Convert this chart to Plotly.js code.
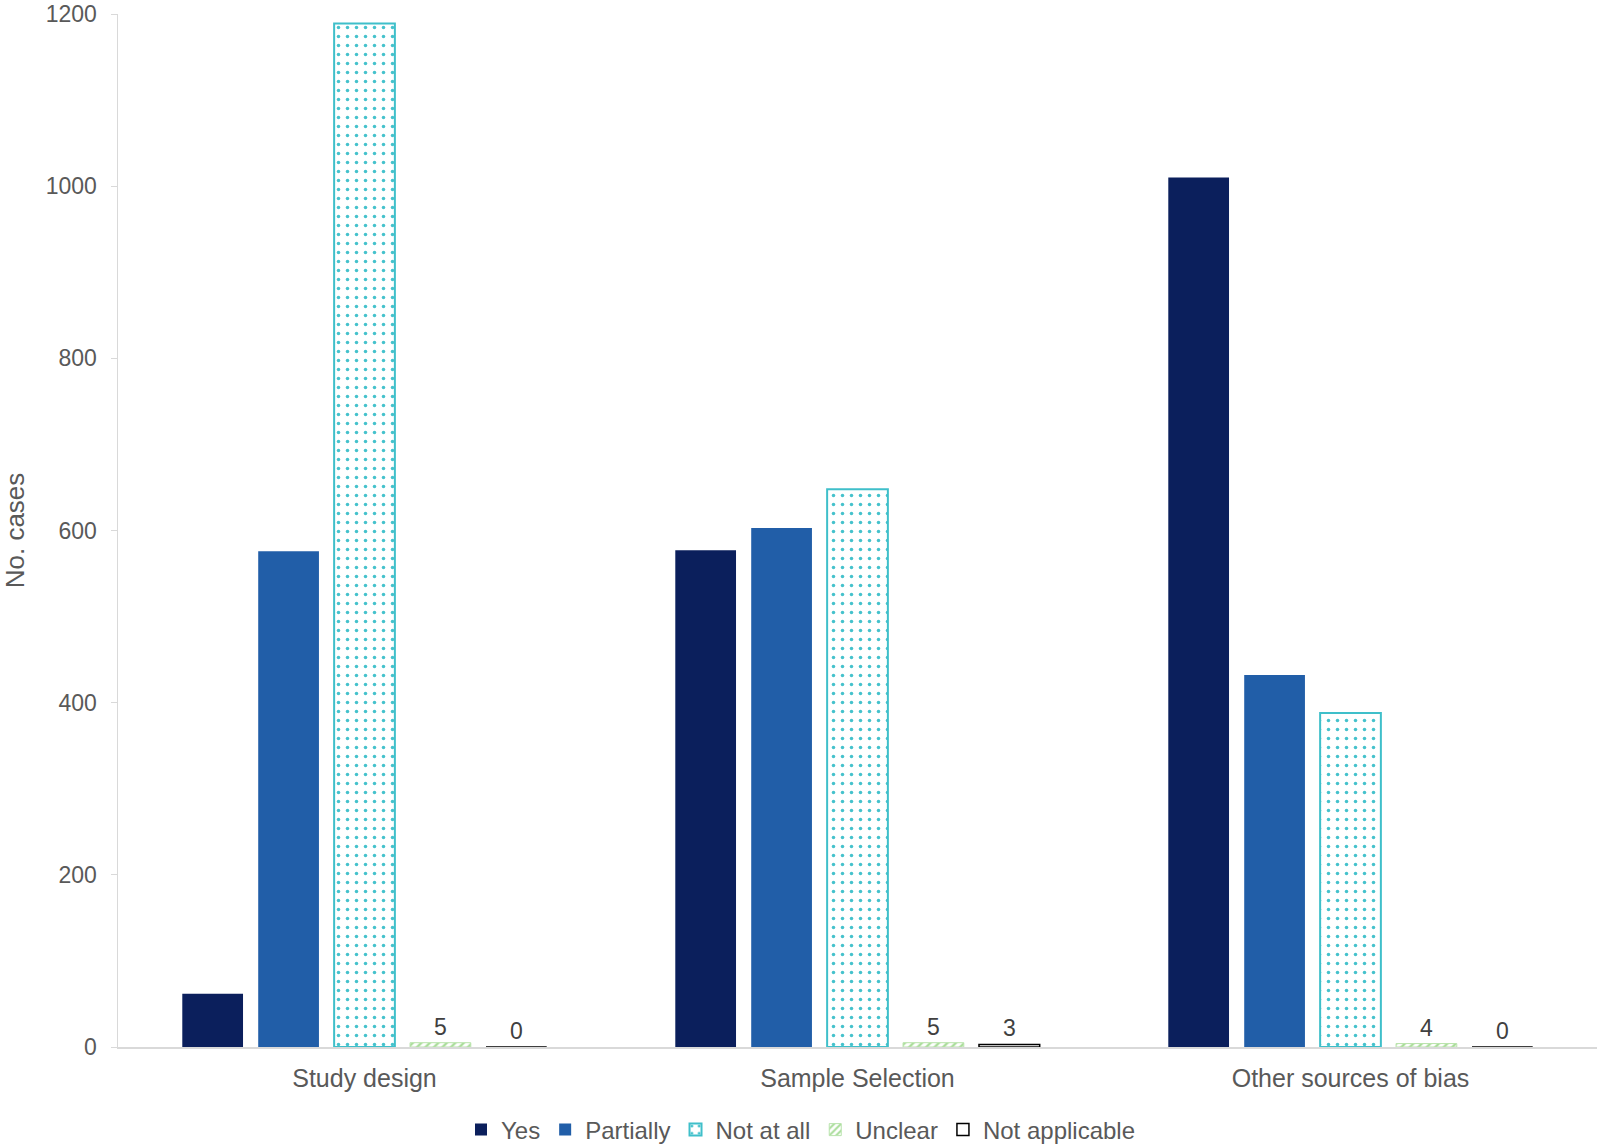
<!DOCTYPE html>
<html><head><meta charset="utf-8">
<script src="https://cdn.plot.ly/plotly-3.0.1.min.js"></script>
<style>html,body{margin:0;padding:0;background:#fff}#chart{width:1602px;height:1147px}</style>
</head><body><div id="chart"></div>
<script>
const categories = ["Study design", "Sample Selection", "Other sources of bias"];
const yesVals = [62, 577, 1010];
const partiallyVals = [576, 603, 432];
const notAtAllVals = [1189, 648, 388];
const unclearVals = [5, 5, 4];
const notApplicableVals = [0, 3, 0];
const yTicks = [0, 200, 400, 600, 800, 1000, 1200];

const font = "Liberation Sans, Arial, sans-serif";
const traces = [
  {name: "Yes", x: categories, y: yesVals, type: "bar",
   marker: {color: "#0b1f5c", line: {width: 0}}},
  {name: "Partially", x: categories, y: partiallyVals, type: "bar",
   marker: {color: "#215ea8", line: {width: 0}}},
  {name: "Not at all", x: categories, y: notAtAllVals, type: "bar",
   marker: {color: "#ffffff", line: {color: "#3fbfca", width: 2},
            pattern: {shape: ".", fgcolor: "#45c2cc", bgcolor: "#ffffff", size: 9, solidity: 0.12}}},
  {name: "Unclear", x: categories, y: unclearVals, type: "bar",
   text: unclearVals.map(String), textposition: "outside", cliponaxis: false,
   textfont: {family: font, size: 23, color: "#404040"},
   marker: {color: "#e2f5dc", line: {color: "#b8e3ab", width: 1},
            pattern: {shape: "/", fgcolor: "#a8dc98", bgcolor: "#ffffff", size: 6, solidity: 0.4}}},
  {name: "Not applicable", x: categories, y: notApplicableVals, type: "bar",
   text: notApplicableVals.map(String), textposition: "outside", cliponaxis: false,
   textfont: {family: font, size: 23, color: "#404040"},
   marker: {color: "#ffffff", line: {color: "#000000", width: 1.5}}}
];

const layout = {
  width: 1602, height: 1147,
  margin: {l: 118, r: 5, t: 14, b: 100},
  paper_bgcolor: "#ffffff", plot_bgcolor: "#ffffff",
  font: {family: font, color: "#595959", size: 20},
  barmode: "group", bargap: 0.23, bargroupgap: 0.2,
  showlegend: true,
  legend: {orientation: "h", x: 0.5, xanchor: "center", xref: "container",
           y: 0.0148, yanchor: "middle", yref: "container",
           font: {family: font, size: 24, color: "#595959"}, itemwidth: 30, tracegroupgap: 0},
  xaxis: {showline: true, linecolor: "#d9d9d9", linewidth: 1.5, ticks: "", showgrid: false,
          tickfont: {family: font, size: 25, color: "#595959"}, zeroline: false,
          ticklabelstandoff: 8},
  yaxis: {range: [0, 1200], tickvals: yTicks, ticktext: yTicks.map(String), showgrid: false,
          showline: true, linecolor: "#d9d9d9", linewidth: 1.5, ticks: "outside", ticklen: 6,
          tickcolor: "#d9d9d9", zeroline: false, ticklabelstandoff: 9,
          tickfont: {family: font, size: 23, color: "#595959"},
          title: {text: "No. cases", font: {family: font, size: 26, color: "#595959"}, standoff: 22}}
};
Plotly.newPlot("chart", traces, layout, {displayModeBar: false, staticPlot: true});
</script></body></html>
